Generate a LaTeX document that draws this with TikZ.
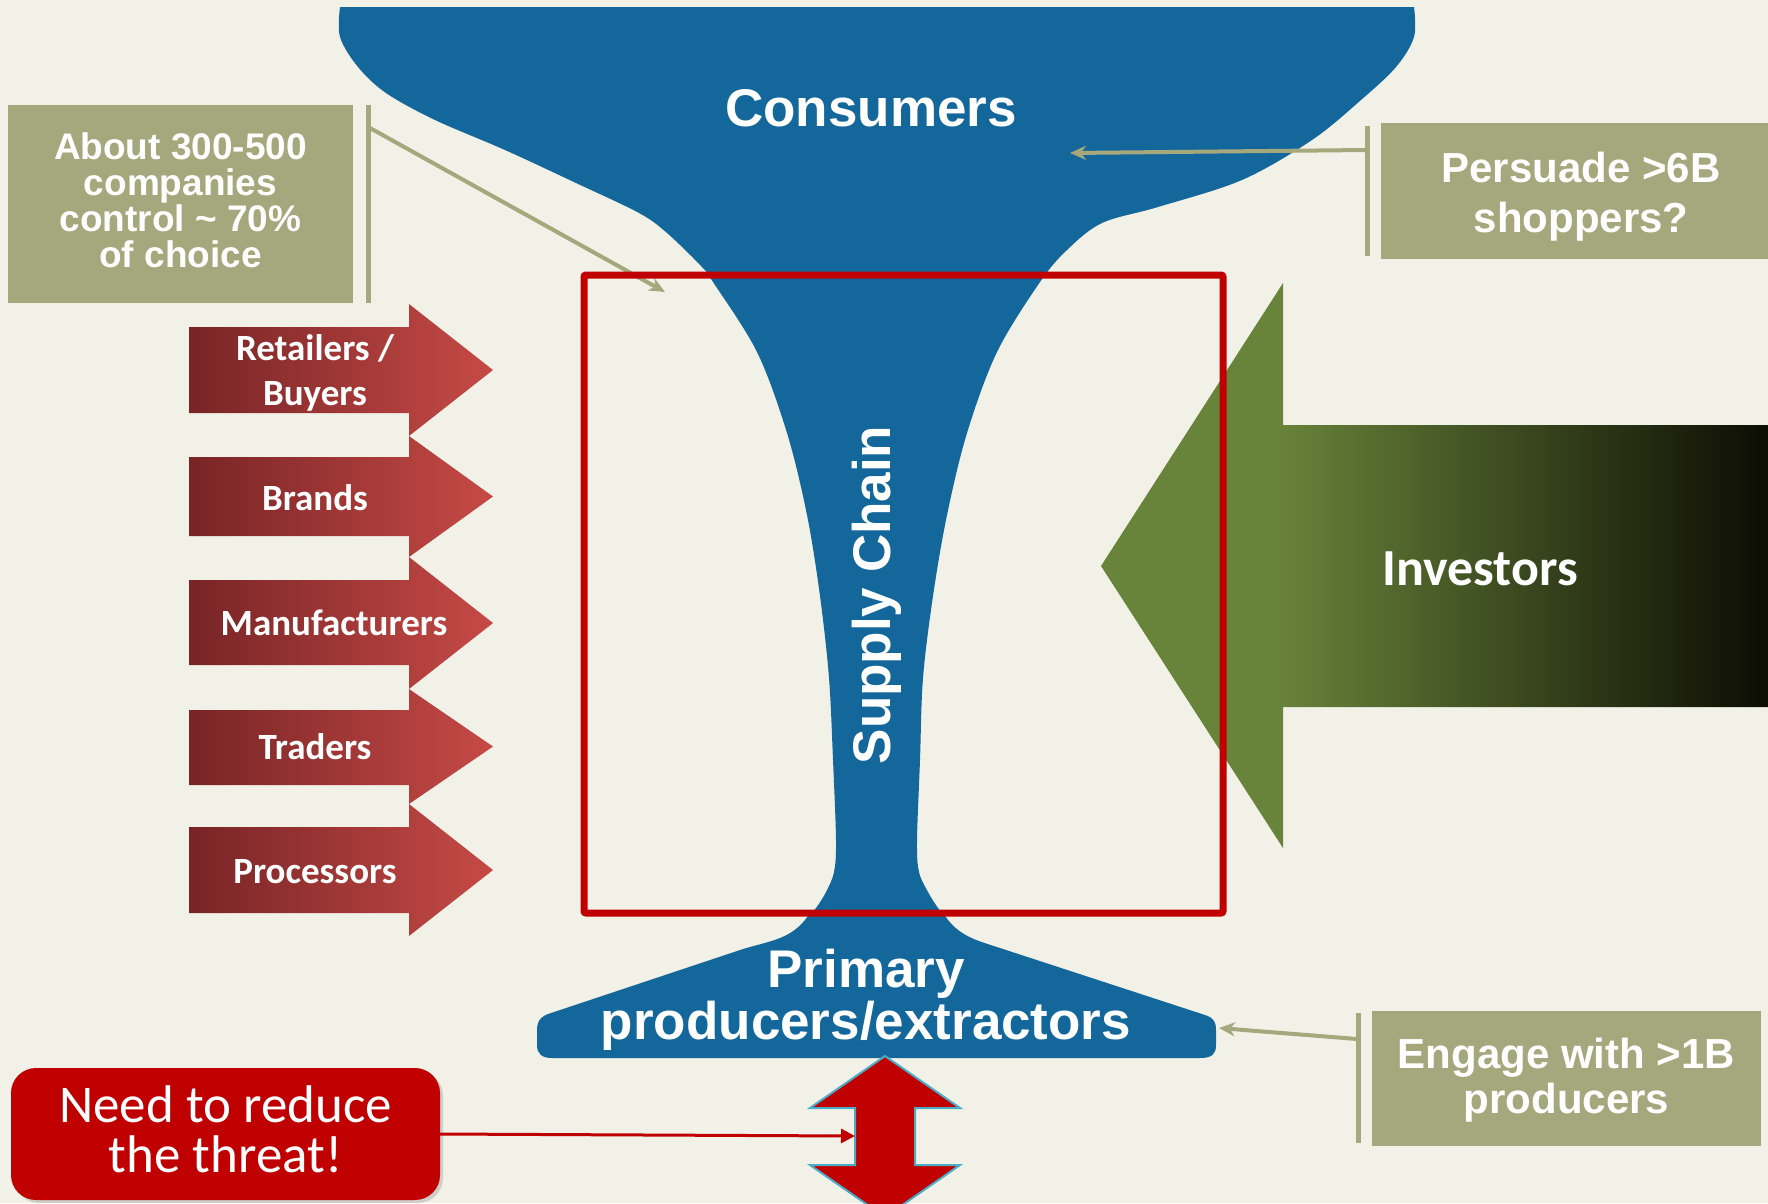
\documentclass[tikz,border=0pt]{standalone}
\usepackage{fontspec}
\setmainfont{Liberation Sans}
\newfontfamily\calibfont{Carlito}
\usetikzlibrary{arrows.meta,shadows}

\definecolor{bgcream}{RGB}{242,241,232}
\definecolor{funnelblue}{RGB}{20,103,155}
\definecolor{calloutolive}{RGB}{165,167,124}
\definecolor{boxred}{RGB}{192,0,0}
\definecolor{arrowdark}{RGB}{120,36,38}
\definecolor{arrowlight}{RGB}{198,74,70}
\definecolor{investgreen}{RGB}{104,131,58}
\definecolor{investdark}{RGB}{10,10,2}
\definecolor{dblblue}{RGB}{75,172,198}

\pgfdeclarehorizontalshading{investshade}{100bp}{color(0bp)=(investgreen); color(38bp)=(investgreen); color(75bp)=(investdark); color(100bp)=(investdark)}

\tikzset{
  funnel/.style={fill=funnelblue},
  calloutbox/.style={fill=calloutolive, inner sep=0pt},
  callouttext/.style={text=white, align=center, inner sep=0pt},
  calloutline/.style={draw=calloutolive, line width=4pt, -{Stealth[length=16pt,width=14pt]}},
  arrowtext/.style={text=white, inner sep=0pt, align=center, font={\calibfont\bfseries\fontsize{37}{45}\selectfont}},
  bigtext/.style={text=white, inner sep=0pt, align=center, font={\bfseries\fontsize{53}{52}\selectfont}},
}

\begin{document}
\begin{tikzpicture}[x=1pt,y=-1pt]
  \useasboundingbox (0,0) rectangle (1768,1203);
  \clip (0,0) rectangle (1768,1203);
  \fill[bgcream] (0,0) rectangle (1768,1203);

  % funnel
  \fill[funnel] plot[smooth,tension=.55] coordinates {(340,7) (340,37) (358,67) (386,93) (435,120) (505,150) (576,183) (639,213) (667,233) (702,267) (713,282) (757,352) (787,433) (807,515) (820,596) (829,678) (833,760) (836,841) (834,872) (826,892) (816,908) (806,919)}
    -- plot[smooth,tension=.55] coordinates {(947,919) (938,908) (928,892) (919,872) (917,841) (920,760) (923,678) (933,596) (947,515) (967,433) (997,352) (1040,282) (1067,250) (1102,223) (1158,207) (1242,180) (1312,140) (1361,100) (1396,67) (1414,37) (1414,7)} -- cycle;
  \fill[funnel] (808,916) to[out=235,in=18] (740,950) -- (548,1014) .. controls (538,1018) and (537,1024) .. (537,1030) -- (537,1045) .. controls (537,1054) and (542,1058) .. (552,1058) -- (1200,1058) .. controls (1212,1058) and (1216,1054) .. (1216,1045) -- (1216,1030) .. controls (1216,1022) and (1214,1018) .. (1205,1015) -- (1000,948) to[out=162,in=-55] (945,916) -- cycle;

  % investors
  \shade[shading=investshade] (1101,566) -- (1283,283) -- (1283,425) -- (1780,425) -- (1780,707) -- (1283,707) -- (1283,848) -- cycle;
  \node[text=white, inner sep=0pt, anchor=base, font={\calibfont\bfseries\fontsize{52}{52}\selectfont}] (investors) at (1480,585) {Investors};

  % chain of actors
  \foreach \bodytop/\bodybot/\headtop/\headbot in {327/413/304/436, 457/536/436/557, 580/665/557/689, 710/785/689/804, 827/913/804/936}
    \shade[left color=arrowdark, right color=arrowlight] (189,\bodytop) -- (409,\bodytop) -- (409,\headtop) -- (493,{(\headtop+\headbot)/2}) -- (409,\headbot) -- (409,\bodybot) -- (189,\bodybot) -- cycle;
  \node[arrowtext] (retail) at (315,373) {Retailers /\\Buyers};
  \node[arrowtext, anchor=base] (brands) at (315,510) {Brands};
  \node[arrowtext, anchor=base] (manuf) at (334,635) {Manufacturers};
  \node[arrowtext, anchor=base] (traders) at (315,759) {Traders};
  \node[arrowtext, anchor=base] (processors) at (315,883) {Processors};

  % callouts
  \node[calloutbox, minimum width=345pt, minimum height=198pt] (choicebox) at (180.5,204) {};
  \node[callouttext, font={\bfseries\fontsize{37}{36}\selectfont}] (choice) at ([yshift=4pt]choicebox.center) {About 300-500\\companies\\control \textasciitilde{} 70\%\\of choice};
  \node[calloutbox, minimum width=400pt, minimum height=136pt] (persuadebox) at (1581,191) {};
  \node[callouttext, font={\bfseries\fontsize{42}{50}\selectfont}] (persuade) at ([yshift=-6pt]persuadebox.center) {Persuade >6B\\shoppers?};
  \node[calloutbox, minimum width=389pt, minimum height=135pt] (engagebox) at (1566.5,1078.5) {};
  \node[callouttext, font={\bfseries\fontsize{42}{45}\selectfont}] (engage) at ([yshift=-2pt]engagebox.center) {Engage with >1B\\producers};
  \fill[calloutolive] (366,105) rectangle (371,303);
  \fill[calloutolive] (1365,126) rectangle (1370,256);
  \fill[calloutolive] (1356,1013) rectangle (1361,1143);
  \coordinate (choicebar) at (370,128);
  \coordinate (choicetarget) at (665,292);
  \coordinate (persuadebar) at (1366,150);
  \coordinate (persuadetarget) at (1070,153);
  \coordinate (engagebar) at (1357,1039);
  \coordinate (engagetarget) at (1219,1028);
  \draw[calloutline] (choicebar) -- (choicetarget);
  \draw[calloutline] (persuadebar) -- (persuadetarget);
  \draw[calloutline] (engagebar) -- (engagetarget);

  % red frame
  \draw[boxred, line width=7pt, rounded corners=2pt] (584,275) rectangle (1223,913);

  % labels on the funnel
  \node[bigtext, anchor=base] (consumers) at (871,126) {Consumers};
  \node[bigtext, rotate=90] (supply) at (877,595) {Supply Chain};
  \node[bigtext] (producers) at (866,1000) {Primary\\producers/extractors};

  % threat
  \filldraw[fill=boxred, draw=dblblue, line width=2pt] (885,1056) -- (960,1108) -- (915,1108) -- (915,1165) -- (960,1165) -- (885,1217) -- (810,1165) -- (855,1165) -- (855,1108) -- (810,1108) -- cycle;
  \node[fill=boxred, rounded corners=25pt, minimum width=429pt, minimum height=132pt, inner sep=0pt, drop shadow={shadow xshift=3pt, shadow yshift=-3pt, opacity=.3}] (threatbox) at (225.5,1134) {};
  \node[callouttext, font={\calibfont\fontsize{53}{50}\selectfont}] (threat) at ([yshift=5pt]threatbox.center) {Need to reduce\\the threat!};
  \coordinate (shaftleft) at (855,1136);
  \draw[boxred, line width=3pt, -{Triangle[length=14pt,width=14pt]}] (threatbox.east) -- (shaftleft);
\end{tikzpicture}
\end{document}
